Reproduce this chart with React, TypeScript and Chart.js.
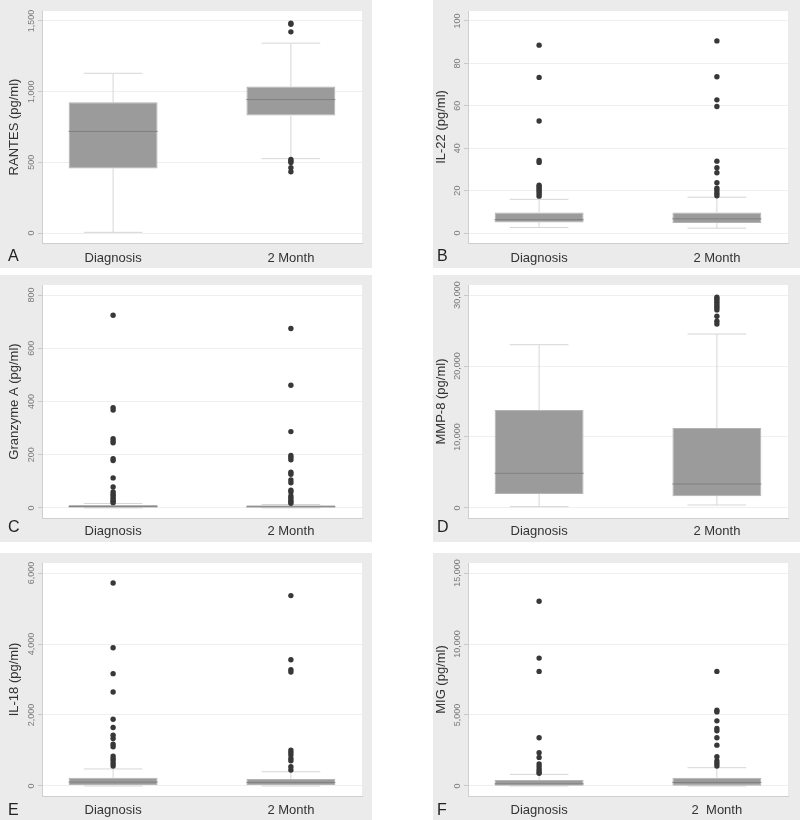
import React, { useEffect, useRef } from 'react';
import { Chart, registerables } from 'chart.js';

Chart.register(...registerables);

// ---------- data ----------
const CATEGORIES = ['Diagnosis', '2 Month'];
const CATEGORIES_F = ['Diagnosis', '2  Month'];

// five-number summaries: [lower whisker, Q1, median, Q3, upper whisker]
const RANTES_DIAG = [5, 457, 719, 925, 1130];
const RANTES_2M = [526, 831, 944, 1037, 1343];
const RANTES_DIAG_OUT: number[] = [];
const RANTES_2M_OUT = [1484, 1476, 1423, 520, 510, 499, 462, 433];
const RANTES_TICKS = [0, 500, 1000, 1500];

const IL22_DIAG = [2.6, 5.0, 6.3, 9.7, 15.9];
const IL22_2M = [2.3, 4.7, 6.7, 9.7, 16.9];
const IL22_DIAG_OUT = [88.6, 73.4, 52.8, 34.2, 33.3, 22.5, 21.8, 21.0, 20.2, 19.3, 18.4, 17.4];
const IL22_2M_OUT = [90.6, 73.7, 62.8, 59.7, 33.9, 30.8, 28.4, 23.7, 21.1, 20.0, 18.8, 17.6];
const IL22_TICKS = [0, 20, 40, 60, 80, 100];

const GRZA_DIAG = [0.3, 2, 5, 11, 17];
const GRZA_2M = [0.3, 2, 4.5, 10, 13];
const GRZA_DIAG_OUT = [724, 377, 368, 260, 252, 245, 185, 178, 113, 79, 60, 52, 45, 38, 31, 25, 20];
const GRZA_2M_OUT = [674, 461, 287, 197, 190, 181, 134, 127, 105, 95, 67, 60, 45, 38, 30, 24, 18];
const GRZA_TICKS = [0, 200, 400, 600, 800];

const MMP8_DIAG = [190, 1970, 4890, 13800, 23000];
const MMP8_2M = [420, 1650, 3380, 11270, 24500];
const MMP8_DIAG_OUT: number[] = [];
const MMP8_2M_OUT = [29700, 29400, 29100, 28800, 28500, 28200, 27900, 27000, 26300, 25900];
const MMP8_TICKS = [0, 10000, 20000, 30000];

const IL18_DIAG = [0, 30, 110, 235, 480];
const IL18_2M = [0, 28, 100, 197, 402];
const IL18_DIAG_OUT = [5720, 3895, 3165, 2648, 1882, 1648, 1432, 1339, 1179, 1104, 842, 777, 711, 637, 562];
const IL18_2M_OUT = [5364, 3558, 3277, 3210, 1011, 946, 871, 777, 711, 543, 449];
const IL18_TICKS = [0, 2000, 4000, 6000];

const MIG_DIAG = [0, 25, 150, 420, 819];
const MIG_2M = [0, 25, 250, 585, 1287];
const MIG_DIAG_OUT = [13008, 9007, 8072, 3393, 2340, 2012, 1544, 1357, 1170, 1006, 900];
const MIG_2M_OUT = [8072, 5334, 5217, 4586, 4050, 3885, 3393, 2878, 2058, 1755, 1591, 1404];
const MIG_TICKS = [0, 5000, 10000, 15000];

// ---------- layout / style ----------
const FONT = "'Liberation Sans', Arial, Helvetica, sans-serif";
const COLS = [
  { left: 0, width: 372, plotLeft: 42, rightGap: 10, titlePad: 7, letterX: 8 },
  { left: 433, width: 367, plotLeft: 35, rightGap: 12, titlePad: 1, letterX: 4 },
];
const ROWS = [
  { top: 0, height: 268, plotTop: 11, bottomGap: 25, labelPad: 8, letterDy: 14 },
  { top: 275, height: 267, plotTop: 10, bottomGap: 24, labelPad: 6, letterDy: 10 },
  { top: 553, height: 267, plotTop: 10, bottomGap: 24, labelPad: 7, letterDy: 15 },
];

type PanelCfg = {
  title: string; letter: string; cats: string[]; ticks: number[];
  groups: number[][]; outliers: number[][]; row: number; col: number;
};

const PANELS: PanelCfg[] = [
  { title: 'RANTES (pg/ml)', letter: 'A', cats: CATEGORIES, ticks: RANTES_TICKS, groups: [RANTES_DIAG, RANTES_2M], outliers: [RANTES_DIAG_OUT, RANTES_2M_OUT], row: 0, col: 0 },
  { title: 'IL-22 (pg/ml)', letter: 'B', cats: CATEGORIES, ticks: IL22_TICKS, groups: [IL22_DIAG, IL22_2M], outliers: [IL22_DIAG_OUT, IL22_2M_OUT], row: 0, col: 1 },
  { title: 'Granzyme A (pg/ml)', letter: 'C', cats: CATEGORIES, ticks: GRZA_TICKS, groups: [GRZA_DIAG, GRZA_2M], outliers: [GRZA_DIAG_OUT, GRZA_2M_OUT], row: 1, col: 0 },
  { title: 'MMP-8 (pg/ml)', letter: 'D', cats: CATEGORIES, ticks: MMP8_TICKS, groups: [MMP8_DIAG, MMP8_2M], outliers: [MMP8_DIAG_OUT, MMP8_2M_OUT], row: 1, col: 1 },
  { title: 'IL-18 (pg/ml)', letter: 'E', cats: CATEGORIES, ticks: IL18_TICKS, groups: [IL18_DIAG, IL18_2M], outliers: [IL18_DIAG_OUT, IL18_2M_OUT], row: 2, col: 0 },
  { title: 'MIG (pg/ml)', letter: 'F', cats: CATEGORIES_F, ticks: MIG_TICKS, groups: [MIG_DIAG, MIG_2M], outliers: [MIG_DIAG_OUT, MIG_2M_OUT], row: 2, col: 1 },
];

const decorPlugin = {
  id: 'panelDecor',
  beforeDraw(chart: any) {
    const { ctx, chartArea: a } = chart;
    ctx.save();
    ctx.fillStyle = '#ffffff';
    ctx.fillRect(a.left, a.top, a.right - a.left, a.bottom - a.top);
    ctx.restore();
  },
  afterDraw(chart: any, _args: any, opts: any) {
    const { ctx, chartArea: a } = chart;
    const ys = chart.scales.y;
    ctx.save();
    ctx.font = `9px ${FONT}`;
    ctx.fillStyle = '#7a7a7a';
    ctx.textAlign = 'center';
    ctx.textBaseline = 'middle';
    ys.ticks.forEach((t: any) => {
      const py = ys.getPixelForValue(t.value);
      ctx.save();
      ctx.translate(a.left - 10, py);
      ctx.rotate(-Math.PI / 2);
      ctx.fillText(Number(t.value).toLocaleString('en-US'), 0, 0);
      ctx.restore();
    });
    ctx.font = `16px ${FONT}`;
    ctx.fillStyle = '#222222';
    ctx.textAlign = 'left';
    ctx.fillText(opts.letter, opts.letterX, a.bottom + opts.letterDy);
    ctx.restore();
  },
};

function BoxPanel({ cfg }: { cfg: PanelCfg }) {
  const ref = useRef<HTMLCanvasElement>(null);
  const col = COLS[cfg.col];
  const row = ROWS[cfg.row];

  useEffect(() => {
    if (!ref.current) return;
    const ticks = cfg.ticks;
    const span = ticks[ticks.length - 1] - ticks[0];
    const pad = span * 0.047;
    const CAP = 0.165;
    const HALF = 0.25;
    const boxes: any[] = [];
    const whisk: any[] = [];
    const med: any[] = [];
    const pts: any[] = [];
    cfg.groups.forEach((g, i) => {
      const x = i + 1;
      const [lo, q1, md, q3, hi] = g;
      boxes.push({ x, y: [q1, q3] });
      whisk.push(
        { x, y: lo }, { x, y: q1 }, { x, y: null },
        { x, y: q3 }, { x, y: hi }, { x, y: null },
        { x: x - CAP, y: hi }, { x: x + CAP, y: hi }, { x, y: null },
        { x: x - CAP, y: lo }, { x: x + CAP, y: lo }, { x, y: null },
      );
      med.push({ x: x - HALF, y: md }, { x: x + HALF, y: md }, { x, y: null });
      cfg.outliers[i].forEach((v) => pts.push({ x, y: v }));
    });

    const chart = new Chart(ref.current, {
      type: 'scatter',
      data: {
        datasets: [
          {
            type: 'line', data: whisk, borderColor: '#d6d6d6', borderWidth: 1,
            pointRadius: 0, spanGaps: false, order: 4, fill: false, showLine: true,
          } as any,
          {
            type: 'bar', data: boxes, backgroundColor: '#9b9b9b', borderColor: '#b3b3b3',
            borderWidth: 1, borderSkipped: false, categoryPercentage: 1, barPercentage: 0.5, order: 3,
          } as any,
          {
            type: 'line', data: med, borderColor: '#808080', borderWidth: 1,
            pointRadius: 0, spanGaps: false, order: 2, fill: false, showLine: true,
          } as any,
          {
            type: 'scatter', data: pts, backgroundColor: '#383838', borderWidth: 0,
            pointRadius: 2.7, order: 1,
          } as any,
        ],
      },
      options: {
        animation: false,
        responsive: false,
        events: [],
        layout: { padding: { left: 0, top: row.plotTop, right: col.rightGap, bottom: 0 } },
        plugins: {
          legend: { display: false },
          tooltip: { enabled: false },
          panelDecor: { letter: cfg.letter, letterX: col.letterX, letterDy: row.letterDy },
        } as any,
        scales: {
          x: {
            type: 'linear',
            offset: false,
            min: 0.6,
            max: 2.4,
            afterBuildTicks: (s: any) => { s.ticks = [{ value: 1 }, { value: 2 }]; },
            afterFit: (s: any) => { s.height = row.bottomGap; },
            grid: { display: false, drawTicks: false, offset: false },
            border: { display: true, color: '#cfcfcf', width: 1 },
            ticks: {
              autoSkip: false, maxRotation: 0, minRotation: 0, padding: row.labelPad,
              color: '#333333', font: { family: FONT, size: 13, lineHeight: 1.2 },
              callback: (v: any) => cfg.cats[Math.round(Number(v)) - 1] ?? '',
            },
          },
          y: {
            type: 'linear',
            min: ticks[0] - pad,
            max: ticks[ticks.length - 1] + pad,
            afterBuildTicks: (s: any) => { s.ticks = ticks.map((v) => ({ value: v })); },
            afterFit: (s: any) => { s.width = col.plotLeft; },
            grid: { color: '#efefef', tickColor: '#c8c8c8', tickLength: 4, drawTicks: true },
            border: { display: true, color: '#cfcfcf', width: 1 },
            ticks: { display: false },
            title: {
              display: true, text: cfg.title, color: '#333333',
              font: { family: FONT, size: 13, lineHeight: 1.2 },
              padding: { top: col.titlePad, bottom: 0 },
            },
          },
        },
      } as any,
      plugins: [decorPlugin as any],
    });
    return () => chart.destroy();
  }, [cfg]);

  return (
    <div
      style={{
        position: 'absolute', left: col.left, top: row.top, width: col.width, height: row.height,
        background: '#ebebeb',
      }}
    >
      <canvas ref={ref} width={col.width} height={row.height} style={{ display: 'block' }} />
    </div>
  );
}

export default function App() {
  return (
    <div style={{ position: 'absolute', left: 0, top: 0, width: 800, height: 820, background: '#ffffff' }}>
      {PANELS.map((p) => (
        <BoxPanel key={p.letter} cfg={p} />
      ))}
    </div>
  );
}
